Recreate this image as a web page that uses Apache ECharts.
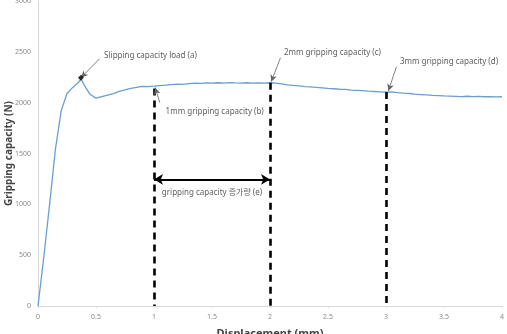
<!DOCTYPE html>
<html><head><meta charset="utf-8">
<script src="https://cdn.jsdelivr.net/npm/echarts@6/dist/echarts.min.js"></script>
<style>html,body{margin:0;padding:0;background:#fff}#c{width:507px;height:334px}</style>
</head><body><div id="c"></div>
<script>
var displacement = [0,0.05,0.1,0.15,0.2,0.25,0.3,0.35,0.37,0.4,0.45,0.5,0.55,0.6,0.65,0.7,0.75,0.8,0.85,0.9,0.95,1.0,1.05,1.1,1.15,1.2,1.25,1.3,1.35,1.4,1.45,1.5,1.55,1.6,1.65,1.7,1.75,1.8,1.85,1.9,1.95,2.0,2.05,2.1,2.15,2.2,2.25,2.3,2.35,2.4,2.45,2.5,2.55,2.6,2.65,2.7,2.75,2.8,2.85,2.9,2.95,3.0,3.05,3.1,3.15,3.2,3.25,3.3,3.35,3.4,3.45,3.5,3.55,3.6,3.65,3.7,3.75,3.8,3.85,3.9,3.95,4.0];
var capacity = [0,480,1000,1540,1920,2090,2150,2200,2235,2170,2080,2045,2060,2075,2090,2110,2125,2140,2150,2160,2158,2162,2168,2172,2178,2182,2180,2188,2192,2190,2195,2192,2196,2193,2197,2194,2192,2196,2193,2195,2192,2196,2192,2184,2176,2170,2165,2158,2155,2150,2146,2140,2137,2132,2130,2124,2121,2118,2113,2110,2107,2104,2106,2098,2093,2090,2084,2080,2076,2072,2070,2066,2064,2062,2060,2063,2059,2062,2058,2060,2057,2058];
var markX = [1, 2, 3];
var markY = [2140, 2196, 2104];
var annotTexts = ['Slipping capacity load (a)','1mm gripping capacity (b)','2mm gripping capacity (c)','3mm gripping capacity (d)'];
var annotTextPos = [[0.57,2461],[1.10,1912],[2.12,2490],[3.12,2402]];
var annotLineStart = [[0.53,2431],[1.05,2000],[2.09,2441],[3.09,2353]];
var annotLineEnd = [[0.37,2245],[1.01,2150],[2.01,2205],[3.02,2115]];
var rangeText = 'gripping capacity 증가량 (e)';
var rangeArrowY = 1245;
var rangeTextY = 1118;

var font = '"Noto Sans", "Noto Sans CJK KR", sans-serif';
var chart = echarts.init(document.getElementById('c'));
var seriesData = displacement.map(function(x,i){return [x, capacity[i]];});

var dashLines = markX.map(function(x,i){
  return [{coord:[x, markY[i]]},{coord:[x, 0]}];
});
var greyLines = annotLineStart.map(function(s,i){
  return [{coord:s},{coord:annotLineEnd[i]}];
});

chart.setOption({
  animation:false,
  grid:{left:38, right:5, top:1, bottom:28, containLabel:false, outerBoundsMode:'none'},
  xAxis:{type:'value', min:0, max:4, interval:0.5,
    name:'Displacement (mm)', nameLocation:'middle', nameGap:22, nameMoveOverlap:false,
    nameTextStyle:{fontFamily:font, fontSize:11, fontWeight:'bold', color:'#444'},
    axisLine:{lineStyle:{color:'#d9d9d9'}},
    axisTick:{show:true, length:2, lineStyle:{color:'#d9d9d9'}},
    axisLabel:{fontFamily:font, fontSize:7, color:'#888', margin:7, formatter:function(v){return String(v);}},
    splitLine:{show:false}},
  yAxis:{type:'value', min:0, max:3000, interval:500,
    name:'Gripping capacity (N)', nameLocation:'middle', nameGap:24, nameMoveOverlap:false,
    nameTextStyle:{fontFamily:font, fontSize:10, fontWeight:'bold', color:'#444'},
    axisLine:{show:true, lineStyle:{color:'#d9d9d9'}},
    axisTick:{show:false},
    axisLabel:{fontFamily:font, fontSize:7, color:'#888', margin:7, formatter:function(v){return String(v);}},
    splitLine:{show:false}},
  series:[
    {type:'line', data:seriesData, showSymbol:false,
     lineStyle:{color:'#6a9fd0', width:1.3}, z:3},
    {type:'line', data:[], silent:true,
     markLine:{symbol:['none','none'], silent:true, label:{show:false},
       lineStyle:{color:'#000', type:[7,5], width:2.6}, data:dashLines}},
    {type:'line', data:[], silent:true,
     markLine:{symbol:['none','arrow'], symbolSize:[5,7], silent:true, label:{show:false},
       lineStyle:{color:'#666', type:'solid', width:0.8}, data:greyLines}},
    {type:'line', data:[], silent:true,
     markLine:{symbol:['arrow','arrow'], symbolSize:[8,9], silent:true, label:{show:false},
       lineStyle:{color:'#000', type:'solid', width:2},
       data:[[{coord:[markX[0], rangeArrowY]},{coord:[markX[1], rangeArrowY]}]]}},
    {type:'scatter', symbol:'diamond', symbolSize:6, itemStyle:{color:'#000'}, z:5,
     data:[annotLineEnd[0]]},
    {type:'scatter', symbolSize:0, silent:true, z:6,
     data:annotTextPos.map(function(p,i){return {value:p, name:annotTexts[i]};}),
     label:{show:true, position:'right', distance:0, formatter:'{b}',
       fontFamily:font, fontSize:8, color:'#333'}},
    {type:'scatter', symbolSize:0, silent:true, z:6,
     data:[{value:[(markX[0]+markX[1])/2, rangeTextY], name:rangeText}],
     label:{show:true, position:'inside', formatter:'{b}',
       fontFamily:font, fontSize:8, color:'#333'}}
  ]
});
</script></body></html>
